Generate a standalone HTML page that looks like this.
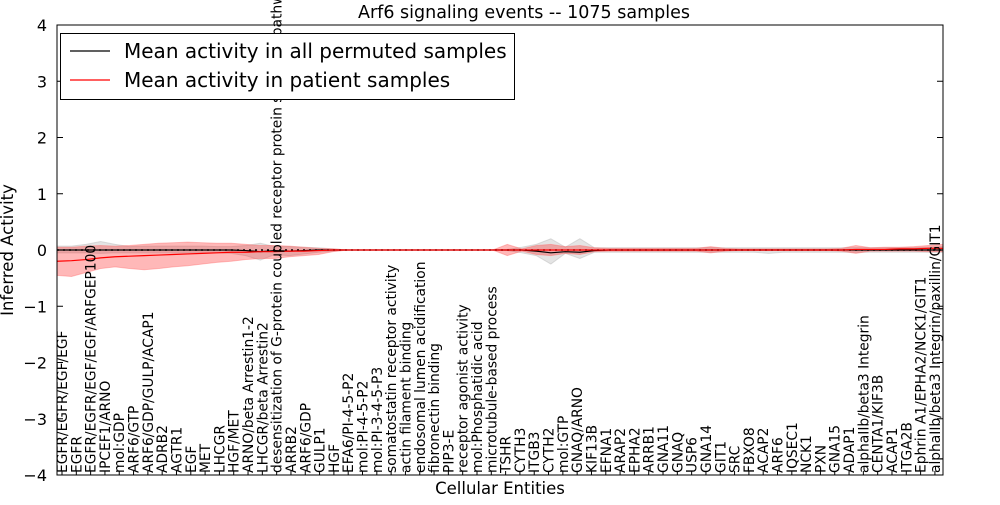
<!DOCTYPE html>
<html><head><meta charset="utf-8"><style>
body{margin:0;background:#fff}
svg{font-family:"DejaVu Sans","Liberation Sans",sans-serif}
</style></head><body>
<svg id="chart" width="1000" height="500">
<defs><clipPath id="pc"><rect x="57" y="25" width="886" height="450"/></clipPath></defs>
<rect width="1000" height="500" fill="#fff"/>
<g id="plot"></g>
<text x="524" y="18" text-anchor="middle" font-size="17.5">Arf6 signaling events -- 1075 samples</text>
<text transform="translate(13,250) rotate(-90)" text-anchor="middle" font-size="16.5">Inferred Activity</text>
<text x="500" y="494" text-anchor="middle" font-size="16.5">Cellular Entities</text>
</svg>
<script>
const labels=["EGFR/EGFR/EGF/EGF","EGFR","EGFR/EGFR/EGF/EGF/ARFGEP100","IPCEF1/ARNO","mol:GDP","ARF6/GTP","ARF6/GDP/GULP/ACAP1","ADRB2","AGTR1","EGF","MET","LHCGR","HGF/MET","ARNO/beta Arrestin1-2","LHCGR/beta Arrestin2","desensitization of G-protein coupled receptor protein signaling pathway","ARRB2","ARF6/GDP","GULP1","HGF","EFA6/PI-4-5-P2","mol:PI-4-5-P2","mol:PI-3-4-5-P3","somatostatin receptor activity","actin filament binding","endosomal lumen acidification","fibronectin binding","PIP3-E","receptor agonist activity","mol:Phosphatidic acid","microtubule-based process","TSHR","CYTH3","ITGB3","CYTH2","mol:GTP","GNAQ/ARNO","KIF13B","EFNA1","ARAP2","EPHA2","ARRB1","GNA11","GNAQ","USP6","GNA14","GIT1","SRC","FBXO8","ACAP2","ARF6","IQSEC1","NCK1","PXN","GNA15","ADAP1","alphaIIb/beta3 Integrin","CENTA1/KIF3B","ACAP1","ITGA2B","Ephrin A1/EPHA2/NCK1/GIT1","alphaIIb/beta3 Integrin/paxillin/GIT1"];
const yTicks=[4,3,2,1,0,-1,-2,-3,-4];
const redMean=[-0.2,-0.19,-0.17,-0.14,-0.12,-0.11,-0.1,-0.09,-0.08,-0.07,-0.06,-0.05,-0.04,-0.04,-0.03,-0.03,-0.02,-0.02,-0.01,0,0,0,0,0,0,0,0,0,0,0,0,0,0,0,0,0,0,0,0,0,0,0,0,0,0,0,0,0,0,0,0,0,0,0,0,0.01,0.01,0.01,0.02,0.02,0.03,0.03];
const redLo=[-0.45,-0.47,-0.4,-0.33,-0.3,-0.33,-0.35,-0.33,-0.3,-0.28,-0.25,-0.22,-0.2,-0.17,-0.15,-0.15,-0.12,-0.1,-0.08,-0.03,0,0,0,0,0,0,0,0,0,0,0,-0.1,-0.02,-0.08,-0.1,-0.06,-0.08,-0.03,-0.02,-0.02,-0.02,-0.02,-0.02,-0.02,-0.02,-0.05,-0.02,-0.01,-0.01,-0.01,-0.01,-0.01,-0.01,-0.01,-0.02,-0.06,-0.02,-0.02,-0.02,-0.02,-0.03,-0.03];
const redHi=[0.05,0.05,0.07,0.08,0.07,0.08,0.1,0.12,0.13,0.14,0.13,0.12,0.12,0.1,0.08,0.08,0.07,0.05,0.03,0.02,0,0,0,0,0,0,0,0,0,0,0,0.1,0.02,0.08,0.1,0.06,0.08,0.04,0.03,0.03,0.03,0.03,0.03,0.03,0.03,0.06,0.03,0.02,0.02,0.02,0.02,0.02,0.02,0.02,0.03,0.08,0.04,0.05,0.05,0.06,0.08,0.1];
const blackMean=[0,0,0,0,0,0,0,0,0,0,0,0,0,-0.01,-0.03,-0.01,-0.02,-0.01,0,0,0,0,0,0,0,0,0,0,0,0,0,0,0,-0.02,-0.05,-0.03,-0.04,-0.01,0,0,0,0,0,0,0,0,0,0,0,0,0,0,0,0,0,0,0,0,0,0,0,0];
const grayLo=[-0.05,-0.05,-0.05,-0.06,-0.05,-0.05,-0.05,-0.05,-0.05,-0.05,-0.05,-0.05,-0.06,-0.1,-0.18,-0.08,-0.1,-0.07,-0.04,-0.02,0,0,0,0,0,0,0,0,0,0,0,-0.01,-0.05,-0.1,-0.25,-0.06,-0.15,-0.04,-0.04,-0.04,-0.04,-0.04,-0.04,-0.04,-0.04,-0.04,-0.04,-0.04,-0.04,-0.06,-0.04,-0.04,-0.04,-0.04,-0.04,-0.04,-0.04,-0.04,-0.04,-0.04,-0.04,-0.04];
const grayHi=[0.07,0.07,0.1,0.15,0.1,0.06,0.07,0.07,0.07,0.07,0.07,0.06,0.06,0.08,0.12,0.06,0.06,0.05,0.04,0.02,0,0,0,0,0,0,0,0,0,0,0,0.01,0.05,0.1,0.2,0.05,0.2,0.04,0.04,0.04,0.04,0.04,0.04,0.04,0.04,0.04,0.04,0.04,0.04,0.04,0.04,0.04,0.04,0.04,0.04,0.04,0.04,0.04,0.04,0.04,0.05,0.06];

const NS="http://www.w3.org/2000/svg";
const L=57,R=943,T=25,B=475;
const X=i=>L+i*((R-L)/(labels.length-1));
const XL=i=>62+i*14.31;
const Y=v=>250-v*(B-T)/8;
const g=document.getElementById('plot');
function mk(t,a,p){const e=document.createElementNS(NS,t);for(const k in a)e.setAttribute(k,a[k]);(p||g).appendChild(e);return e;}
function band(lo,hi){let d='M'+lo.map((v,i)=>X(i)+','+Y(v)).join('L');for(let i=hi.length-1;i>=0;i--)d+='L'+X(i)+','+Y(hi[i]);return d+'Z';}
function line(a){return 'M'+a.map((v,i)=>X(i)+','+Y(v)).join('L');}

const dg=mk('g',{'clip-path':'url(#pc)'});


let e=mk('path',{d:band(grayLo,grayHi),fill:'#bbb','fill-opacity':0.4,stroke:'#bbb','stroke-opacity':0.5},dg);


e=mk('path',{d:band(redLo,redHi),fill:'#f00','fill-opacity':0.28,stroke:'#f66','stroke-opacity':0.4},dg);


e=mk('line',{x1:L,x2:R,y1:Y(0),y2:Y(0),stroke:'#000','stroke-width':1.5,'stroke-dasharray':'2,4'},dg);


e=mk('path',{d:line(blackMean),fill:'none',stroke:'#000','stroke-width':1.2},dg);


e=mk('path',{d:line(redMean),fill:'none',stroke:'#f00','stroke-width':1.2},dg);



e=mk('rect',{x:L,y:T,width:R-L,height:B-T,fill:'none',stroke:'#000'});



yTicks.forEach(v=>{
  let t=mk('line',{x1:L,x2:L+6,y1:Y(v),y2:Y(v),stroke:'#000'});
  
  
  t=mk('line',{x1:R-6,x2:R,y1:Y(v),y2:Y(v),stroke:'#000'});
  
  
  t=mk('text',{x:L-10,y:Y(v)+6,'text-anchor':'end','font-size':16});
  t.textContent=v===0?'0':(v<0?'\u2212'+(-v):String(v));
  
  
});
labels.forEach((s,i)=>{
  let t=mk('line',{x1:XL(i),x2:XL(i),y1:B,y2:B-4,stroke:'#000'});
  
  
  t=mk('text',{transform:`translate(${XL(i)+5},${B-2}) rotate(-90)`,'font-size':13.8});
  t.textContent=s;
  
  
});

const lg=mk('g',{});


mk('rect',{x:60.5,y:33.5,width:454,height:66,fill:'#fff',stroke:'#000'},lg);
mk('line',{x1:70,x2:110,y1:51,y2:51,stroke:'#000','stroke-width':1.2},lg);
let t1=mk('text',{x:124,y:58,'font-size':20},lg);t1.textContent='Mean activity in all permuted samples';


mk('line',{x1:70,x2:110,y1:80,y2:80,stroke:'#f00','stroke-width':1.2},lg);
let t2=mk('text',{x:124,y:87,'font-size':20},lg);t2.textContent='Mean activity in patient samples';


</script>
</body></html>
